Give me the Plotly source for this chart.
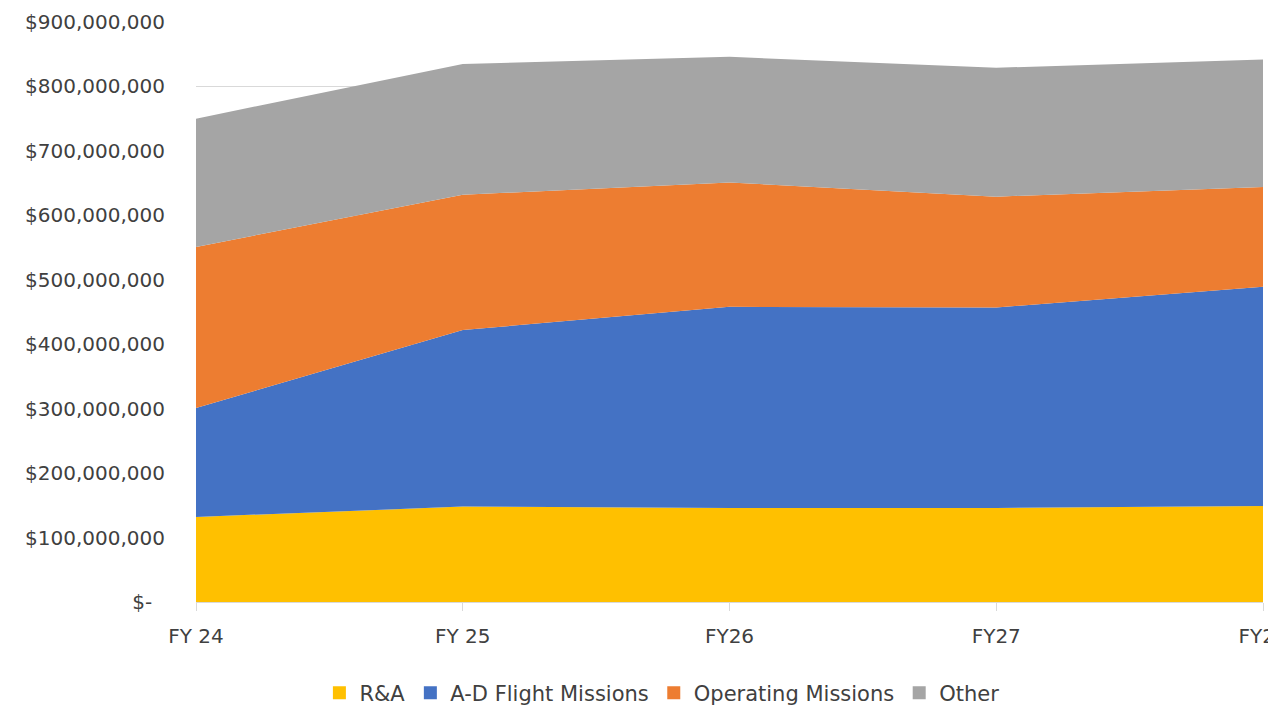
import plotly.graph_objects as go

# Fiscal years on the category axis
years = ["FY 24", "FY 25", "FY26", "FY27", "FY28"]

# Annual funding by portfolio (USD), stacked bottom to top
ra = [132e6, 148e6, 146e6, 146e6, 149e6]
ad_flight = [169e6, 274e6, 312e6, 311e6, 340e6]
operating = [250e6, 210e6, 193e6, 172e6, 155e6]
other = [199e6, 203e6, 195e6, 200e6, 198e6]

series_names = ["R&A", "A-D Flight Missions", "Operating Missions", "Other"]
series_values = [ra, ad_flight, operating, other]
series_colors = ["#FFC000", "#4472C4", "#ED7D31", "#A5A5A5"]

# Y-axis ticks in accounting format
y_ticks = [i * 100e6 for i in range(10)]
y_labels = ["$-\u00a0\u00a0"] + ["${:,.0f}".format(v) for v in y_ticks[1:]]

FONT = "DejaVu Sans"
TEXT = "#404040"

fig = go.Figure()

for name, vals, color in zip(series_names, series_values, series_colors):
    fig.add_trace(go.Scatter(
        x=years, y=vals, name=name, stackgroup="one", mode="none",
        fillcolor=color, line=dict(width=0), showlegend=False,
        hoverinfo="x+y+name",
    ))

# Square swatches for the legend
for name, color in zip(series_names, series_colors):
    fig.add_trace(go.Scatter(
        x=[None], y=[None], name=name, mode="markers",
        marker=dict(symbol="square", size=13, color=color),
        showlegend=True,
    ))

fig.update_layout(
    template="none",
    width=1268, height=713,
    margin=dict(l=196, r=5, t=22, b=111, autoexpand=False),
    paper_bgcolor="white", plot_bgcolor="white",
    font=dict(family=FONT, size=20, color=TEXT),
    legend=dict(
        orientation="h", traceorder="normal",
        xref="container", yref="container",
        x=0.522, xanchor="center", y=0.028, yanchor="middle",
        font=dict(family=FONT, size=21, color=TEXT),
        itemclick=False, itemdoubleclick=False,
    ),
    xaxis=dict(
        type="category", range=[0, 4], showgrid=False,
        showline=True, linecolor="#D9D9D9", linewidth=1,
        ticks="outside", ticklen=8, tickcolor="#D9D9D9", tickwidth=1,
        ticklabelstandoff=8,
        tickfont=dict(family=FONT, size=20, color=TEXT),
        automargin=False, zeroline=False,
    ),
    yaxis=dict(
        range=[0, 900e6], tickvals=y_ticks, ticktext=y_labels,
        showgrid=True, gridcolor="#D9D9D9", gridwidth=1,
        showline=False, zeroline=False, ticks="",
        ticklabelstandoff=30,
        tickfont=dict(family=FONT, size=20, color=TEXT),
        automargin=False,
    ),
)

fig.write_html("out.html")
